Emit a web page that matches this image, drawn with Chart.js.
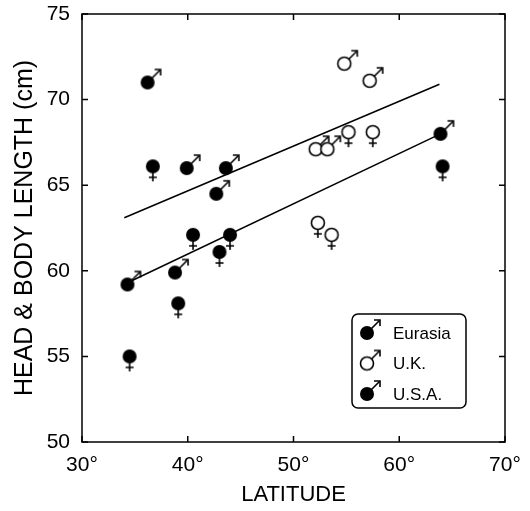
<!DOCTYPE html>
<html lang="en">
<head>
<meta charset="UTF-8">
<title>Head & body length vs latitude</title>
<script src="https://cdn.jsdelivr.net/npm/chart.js"></script>
<style>
  body { margin: 0; background: #fff; }
  .wrap { width: 530px; height: 511px; }
</style>
</head>
<body>
<div class="wrap"><canvas id="chart" width="530" height="511"></canvas></div>
<script>
// filled symbols (Eurasia / U.S.A.)
const filledLat = [36.2, 36.7, 39.9, 43.6, 42.7, 40.5, 44.0, 34.3, 38.8, 43.0, 39.1, 34.5, 63.9, 64.1];
const filledLen = [71.0, 66.1, 66.0, 66.0, 64.5, 62.1, 62.1, 59.2, 59.9, 61.1, 58.1, 55.0, 68.0, 66.1];
const filledSex = ['M', 'F', 'M', 'M', 'M', 'F', 'F', 'M', 'M', 'F', 'F', 'F', 'M', 'F'];

// open symbols (U.K.)
const ukLat = [54.8, 57.2, 52.1, 53.2, 55.2, 57.5, 52.3, 53.6];
const ukLen = [72.1, 71.1, 67.1, 67.1, 68.1, 68.1, 62.8, 62.1];
const ukSex = ['M', 'M', 'M', 'M', 'F', 'F', 'F', 'F'];

// regression lines, end points
const maleLineLat = [34.0, 63.8];
const maleLineLen = [63.1, 70.9];
const femaleLineLat = [34.3, 63.9];
const femaleLineLen = [59.3, 68.0];

const xTicks = [30, 40, 50, 60, 70];
const yTicks = [50, 55, 60, 65, 70, 75];

const FONT = "'Liberation Sans', Arial, Helvetica, sans-serif";

function makeSymbol(filled, sex) {
    const c = document.createElement('canvas');
    c.width = 40; c.height = 40;
    const g = c.getContext('2d');
    const cx = 20, cy = 20, r = 7;
    g.strokeStyle = '#000';
    g.fillStyle = '#000';
    g.lineWidth = 1.6;
    if (sex === 'M') {
        g.beginPath();
        g.moveTo(cx + 4, cy - 4);
        g.lineTo(cx + 12.5, cy - 12.5);
        g.stroke();
        g.beginPath();
        g.moveTo(cx + 7, cy - 13);
        g.lineTo(cx + 13, cy - 13);
        g.lineTo(cx + 13, cy - 7);
        g.stroke();
    } else {
        g.beginPath();
        g.moveTo(cx, cy + 6);
        g.lineTo(cx, cy + 15);
        g.moveTo(cx - 4, cy + 11);
        g.lineTo(cx + 4, cy + 11);
        g.stroke();
    }
    g.beginPath();
    if (filled) {
        g.arc(cx, cy, r, 0, Math.PI * 2);
        g.fill();
    } else {
        g.fillStyle = '#fff';
        g.arc(cx, cy, r - 0.5, 0, Math.PI * 2);
        g.fill();
        g.stroke();
    }
    return c;
}

const symbols = {
    filledM: makeSymbol(true, 'M'),
    filledF: makeSymbol(true, 'F'),
    openM: makeSymbol(false, 'M'),
    openF: makeSymbol(false, 'F')
};

function pts(xs, ys) {
    return xs.map((x, i) => ({ x: x, y: ys[i] }));
}

// box, inward ticks and the legend
const framePlugin = {
    id: 'frame',
    afterDraw(chart) {
        const ctx = chart.ctx;
        const a = chart.chartArea;
        const xs = chart.scales.x, ys = chart.scales.y;
        ctx.save();
        ctx.strokeStyle = '#000';
        ctx.lineWidth = 1.5;
        ctx.strokeRect(a.left, a.top, a.right - a.left, a.bottom - a.top);
        ctx.beginPath();
        xTicks.forEach(v => {
            const px = xs.getPixelForValue(v);
            ctx.moveTo(px, a.bottom); ctx.lineTo(px, a.bottom - 6);
            ctx.moveTo(px, a.top); ctx.lineTo(px, a.top + 6);
        });
        yTicks.forEach(v => {
            const py = ys.getPixelForValue(v);
            ctx.moveTo(a.left, py); ctx.lineTo(a.left + 6, py);
            ctx.moveTo(a.right, py); ctx.lineTo(a.right - 6, py);
        });
        ctx.stroke();

        // legend
        const lx = 352, ly = 314, lw = 114, lh = 94;
        ctx.lineWidth = 1.5;
        ctx.beginPath();
        ctx.roundRect(lx, ly, lw, lh, 6);
        ctx.fillStyle = '#fff';
        ctx.fill();
        ctx.stroke();
        const items = [['Eurasia', symbols.filledM], ['U.K.', symbols.openM], ['U.S.A.', symbols.filledM]];
        ctx.font = '17px ' + FONT;
        ctx.fillStyle = '#000';
        ctx.textBaseline = 'middle';
        items.forEach((it, i) => {
            const y = ly + 19 + i * 30.5;
            ctx.drawImage(it[1], lx + 15 - 20, y - 20);
            ctx.fillText(it[0], lx + 41, y + 1);
        });
        ctx.restore();
    }
};

new Chart(document.getElementById('chart'), {
    type: 'scatter',
    data: {
        datasets: [
            {
                label: 'Eurasia / U.S.A.',
                data: pts(filledLat, filledLen),
                pointStyle: c => filledSex[c.dataIndex] === 'M' ? symbols.filledM : symbols.filledF
            },
            {
                label: 'U.K.',
                data: pts(ukLat, ukLen),
                pointStyle: c => ukSex[c.dataIndex] === 'M' ? symbols.openM : symbols.openF
            },
            {
                type: 'line',
                label: 'males',
                data: pts(maleLineLat, maleLineLen),
                borderColor: '#000',
                borderWidth: 1.5,
                pointRadius: 0,
                fill: false
            },
            {
                type: 'line',
                label: 'females',
                data: pts(femaleLineLat, femaleLineLen),
                borderColor: '#000',
                borderWidth: 1.5,
                pointRadius: 0,
                fill: false
            }
        ]
    },
    options: {
        responsive: false,
        animation: false,
        layout: { padding: { left: 0, right: 25, top: 14, bottom: 0 } },
        plugins: {
            legend: { display: false },
            tooltip: { enabled: false }
        },
        scales: {
            x: {
                type: 'linear',
                min: 30,
                max: 70,
                afterFit: s => { s.height = 69; s.paddingLeft = 0; s.paddingRight = 0; },
                afterBuildTicks: s => { s.ticks = xTicks.map(v => ({ value: v })); },
                grid: { display: false, drawTicks: false },
                border: { display: false },
                ticks: {
                    color: '#000',
                    padding: 11,
                    font: { family: FONT, size: 21 },
                    maxRotation: 0,
                    callback: v => v + '°'
                },
                title: {
                    display: true,
                    text: 'LATITUDE',
                    color: '#000',
                    font: { family: FONT, size: 22 },
                    padding: { top: 0, bottom: 3 }
                }
            },
            y: {
                type: 'linear',
                min: 50,
                max: 75,
                afterFit: s => { s.width = 82; s.paddingTop = 0; s.paddingBottom = 0; },
                afterBuildTicks: s => { s.ticks = yTicks.map(v => ({ value: v })); },
                grid: { display: false, drawTicks: false },
                border: { display: false },
                ticks: {
                    color: '#000',
                    padding: 12,
                    font: { family: FONT, size: 21 }
                },
                title: {
                    display: true,
                    text: 'HEAD & BODY LENGTH (cm)',
                    color: '#000',
                    font: { family: FONT, size: 25 },
                    padding: { top: 10, bottom: 0 }
                }
            }
        }
    },
    plugins: [framePlugin]
});
</script>
</body>
</html>
